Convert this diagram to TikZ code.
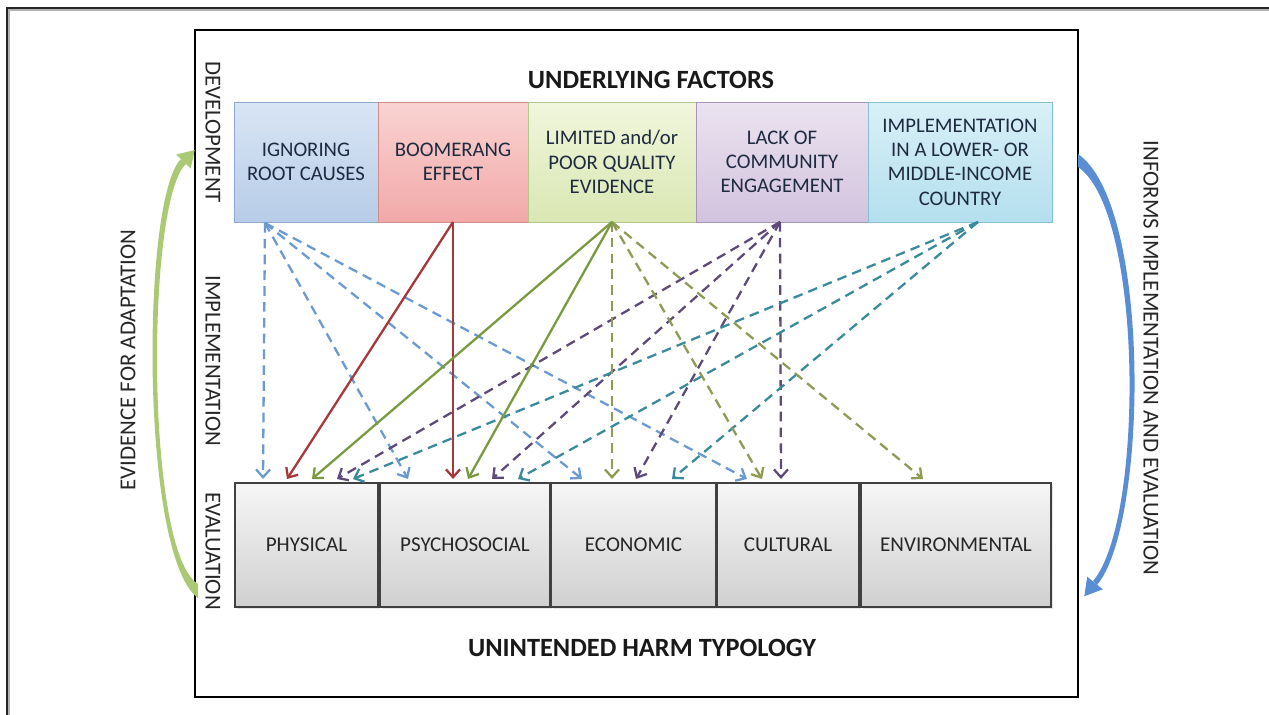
\documentclass[tikz,border=0pt]{standalone}
\usepackage{fontspec}
\setmainfont{Carlito}
\usetikzlibrary{arrows.meta}
\usetikzlibrary{shadows}

\definecolor{txt}{HTML}{1E2A40}
\definecolor{ignL}{HTML}{D9E5F4}\definecolor{ignD}{HTML}{B7CCE8}\definecolor{ignB}{HTML}{8DA9D1}
\definecolor{boomL}{HTML}{F9D3D2}\definecolor{boomD}{HTML}{F1A9A8}\definecolor{boomB}{HTML}{D38B8A}
\definecolor{evidL}{HTML}{F0F6DC}\definecolor{evidD}{HTML}{DAE7B3}\definecolor{evidB}{HTML}{B3C78A}
\definecolor{commL}{HTML}{EBE3F0}\definecolor{commD}{HTML}{D2C3DE}\definecolor{commB}{HTML}{A894BB}
\definecolor{lmicL}{HTML}{D9F0F7}\definecolor{lmicD}{HTML}{B4DFEE}\definecolor{lmicB}{HTML}{84BFD2}
\definecolor{harmL}{HTML}{F6F6F6}\definecolor{harmD}{HTML}{D0D0D0}
% connector colours
\definecolor{ignA}{HTML}{6A9AD2}
\definecolor{boomA}{HTML}{A6383B}
\definecolor{evidA}{HTML}{7A9A40}
\definecolor{oliveA}{HTML}{8E9B55}
\definecolor{commA}{HTML}{5D4A7A}
\definecolor{lmicA}{HTML}{3A8A9E}
\definecolor{adaptA}{HTML}{A9C972}
\definecolor{informA}{HTML}{5A8ED4}

\begin{document}
\begin{tikzpicture}[x=0.02cm, y=-0.02cm,
  factor/.style={draw, line width=0.5pt, align=center, text=txt, inner sep=2pt,
    minimum height=2.4cm, font=\fontsize{11.8}{13.8}\selectfont},
  harm/.style={draw=black!75, line width=0.6pt, top color=harmL, bottom color=harmD,
    minimum height=2.48cm, text=black!85, font=\fontsize{12}{14}\selectfont,
    drop shadow={opacity=0.2, shadow xshift=1pt, shadow yshift=-1pt}},
  heading/.style={font=\fontsize{15}{18}\selectfont\bfseries, text=black!90},
  stage/.style={rotate=-90, font=\fontsize{13}{15}\selectfont, text=black!85},
  link/.style={line width=1.3pt, -{Straight Barb[length=4.5pt,width=8pt]}},
  dashlink/.style={link, dash pattern=on 5.5pt off 3.5pt}]
\useasboundingbox (0,0) rectangle (1269,715);

% frames
\draw[gray!60, line width=0.6pt] (9,715) -- (9,10) -- (1269,10);
\draw[black!85, line width=1.2pt] (7,715) -- (7,8) -- (1269,8);
\draw[line width=1.6pt] (195,30) rectangle (1078,697);

% underlying factors
\node[heading] (uf) at (651,80) {UNDERLYING FACTORS};
\node[factor, draw=ignB, top color=ignL, bottom color=ignD, minimum width=2.88cm] (ign) at (306,162) {IGNORING\\ROOT CAUSES};
\node[factor, draw=boomB, top color=boomL, bottom color=boomD, minimum width=3.00cm] (boom) at (453,162) {BOOMERANG\\EFFECT};
\node[factor, draw=evidB, top color=evidL, bottom color=evidD, minimum width=3.36cm] (evid) at (612,162) {LIMITED and/or\\POOR QUALITY\\EVIDENCE};
\node[factor, draw=commB, top color=commL, bottom color=commD, minimum width=3.44cm] (comm) at (782,162) {LACK OF\\COMMUNITY\\ENGAGEMENT};
\node[factor, draw=lmicB, top color=lmicL, bottom color=lmicD, minimum width=3.68cm] (lmic) at (960,162) {IMPLEMENTATION\\IN A LOWER- OR\\MIDDLE-INCOME\\COUNTRY};

% harm typology
\node[harm, minimum width=2.86cm] (phys) at (306.5,545) {PHYSICAL};
\node[harm, minimum width=3.40cm] (psy) at (465,545) {PSYCHOSOCIAL};
\node[harm, minimum width=3.30cm] (econ) at (633.5,545) {ECONOMIC};
\node[harm, minimum width=2.84cm] (cult) at (788,545) {CULTURAL};
\node[harm, minimum width=3.80cm] (env) at (956,545) {ENVIRONMENTAL};
\node[heading] (uht) at (642,648) {UNINTENDED HARM TYPOLOGY};

% stages
\node[stage] (dev) at (213,132) {DEVELOPMENT};
\node[stage] (imp) at (213,361) {IMPLEMENTATION};
\node[stage] (eval) at (213,551) {EVALUATION};

% where the connectors leave and land
\coordinate (ign-o) at (265,223);
\coordinate (boom-o) at (453,222);
\coordinate (evid-o) at (612,222);
\coordinate (comm-o) at (780,222);
\coordinate (lmic-o) at (978,222);
\foreach \n/\x in {ign-phys/263, ign-psy/408, ign-econ/582, ign-cult/747,
    boom-phys/287, boom-psy/453,
    evid-phys/312, evid-psy/468, evid-econ/612, evid-cult/762, evid-env/923,
    comm-phys/337, comm-psy/492, comm-econ/636, comm-cult/781,
    lmic-phys/353, lmic-psy/518, lmic-econ/672}
  \coordinate (\n) at (\x,479);

\foreach \h in {phys,psy,econ,cult}
  \draw[dashlink, ignA] (ign-o) -- (ign-\h);
\foreach \h in {phys,psy,econ,cult}
  \draw[dashlink, commA] (comm-o) -- (comm-\h);
\foreach \h in {phys,psy,econ}
  \draw[dashlink, lmicA] (lmic-o) -- (lmic-\h);
\foreach \h in {econ,cult,env}
  \draw[dashlink, oliveA] (evid-o) -- (evid-\h);
\foreach \h in {phys,psy}
  \draw[link, boomA] (boom-o) -- (boom-\h);
\foreach \h in {phys,psy}
  \draw[link, evidA] (evid-o) -- (evid-\h);

% feedback arrows
\fill[adaptA] (198,598) .. controls (140,556) and (141,198) .. (181,159)
  -- (186,164) .. controls (146,200) and (145,552) .. (198,584) -- cycle;
\fill[adaptA] (190.7,168.5) -- (194.7,150) -- (176.3,154.5) -- cycle;
\node[rotate=90, font=\fontsize{13}{15}\selectfont, text=black!85] (adapt) at (128,360) {EVIDENCE FOR ADAPTATION};

\fill[informA] (1078,154) .. controls (1152,205) and (1148,525) .. (1097,585)
  -- (1093,581) .. controls (1144,522) and (1144,212) .. (1078,167) -- cycle;
\fill[informA] (1102.8,589.3) -- (1084.3,596.3) -- (1087.2,576.7) -- cycle;
\node[stage] (inform) at (1151,358) {INFORMS IMPLEMENTATION AND EVALUATION};
\end{tikzpicture}
\end{document}
